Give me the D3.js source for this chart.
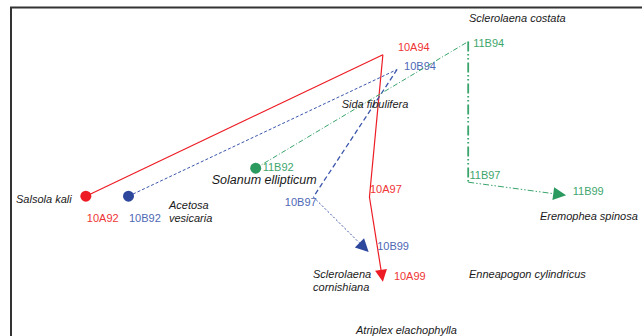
<!DOCTYPE html>
<html>
<head>
<meta charset="utf-8">
<script src="https://cdn.jsdelivr.net/npm/d3@7"></script>
<style>
  html, body { margin: 0; padding: 0; background: #fff; }
  svg { display: block; }
  text { font-family: "Liberation Sans", Arial, sans-serif; }
</style>
</head>
<body>
<svg id="chart" width="642" height="336"></svg>
<script>
// Ordination scores (axis 1, axis 2) of each plot in 1992, 1994, 1997 and 1999
const labels10A = ["10A92", "10A94", "10A97", "10A99"];
const axis1_10A = [-1.52, 0.36, 0.275, 0.36];
const axis2_10A = [-0.30, 1.42, -0.31, -1.34];

const labels10B = ["10B92", "10B94", "10B97", "10B99"];
const axis1_10B = [-1.25, 0.45, -0.08, 0.27];
const axis2_10B = [-0.30, 1.24, -0.31, -0.98];

const labels11B = ["11B92", "11B94", "11B97", "11B99"];
const axis1_11B = [-0.445, 0.90, 0.90, 1.52];
const axis2_11B = [0.04, 1.58, -0.13, -0.29];

// Species scores
const speciesNames = [
  "Sclerolaena costata", "Sida fibulifera", "Solanum ellipticum", "Salsola kali",
  "Acetosa vesicaria", "Sclerolaena cornishiana", "Eremophea spinosa",
  "Enneapogon cylindricus", "Atriplex elachophylla"
];
const speciesAxis1 = [0.905, 0.099, -0.723, -1.962, -0.994, -0.082, 1.354, 0.905, 0.19];
const speciesAxis2 = [1.818, 0.766, -0.158, -0.383, -0.46, -1.295, -0.59, -1.289, -1.979];

const W = 642, H = 336;
const svg = d3.select("#chart");

const x = d3.scaleLinear().domain([-2, 2]).range([10, 642]);
const y = d3.scaleLinear().domain([-2, 2]).range([336, 7]);

// Frame (top and left edges of the plot box)
svg.append("path")
  .attr("d", `M${x(-2) + 1},${H} V${y(2) + 0.5} H${W}`)
  .attr("fill", "none")
  .attr("stroke", "#333")
  .attr("stroke-width", 2);

// Plot trajectories and their drawing styles
const plots = [
  {
    labels: labels10A, a1: axis1_10A, a2: axis2_10A,
    mark: "#ed1c24", line: "#ed1c24", text: "#ef3535",
    segs: [
      { w: 1.2, dash: null }, { w: 1.2, dash: null }, { w: 1.2, dash: null }
    ],
    arrow: { len: 12, half: 6 },
    off: [[1, 25.5], [15, -4], [0.5, -4], [11, -2]]
  },
  {
    labels: labels10B, a1: axis1_10B, a2: axis2_10B,
    mark: "#2d479d", line: "#3a55aa", text: "#4e68b6",
    segs: [
      { w: 1, dash: "3,2" }, { w: 1.3, dash: "5,3" }, { w: 1, dash: "2,2" }
    ],
    arrow: { len: 13, half: 6.5 },
    off: [[0.5, 25.5], [7, 0], [-28.5, 9.5], [8.5, -1.7]]
  },
  {
    labels: labels11B, a1: axis1_11B, a2: axis2_11B,
    mark: "#2b9a5f", line: "#39a46b", text: "#3ea66d",
    segs: [
      { w: 1, dash: "5,2,1,2" }, { w: 1.8, dash: "10,2.5,1.5,2.5,1.5,3" }, { w: 1, dash: "6,2,1.5,2,1.5,2" }
    ],
    arrow: { len: 13, half: 6.5 },
    off: [[7, 3.2], [5, 5], [1.3, -3], [6.6, -0.7]]
  }
];

plots.forEach(p => {
  const pts = p.labels.map((lab, i) => ({ lab, px: x(p.a1[i]), py: y(p.a2[i]) }));
  const g = svg.append("g");

  // segments between successive years
  for (let i = 0; i < pts.length - 1; i++) {
    const s = p.segs[i];
    let x2 = pts[i + 1].px, y2 = pts[i + 1].py;
    if (i === pts.length - 2) {
      // stop the last segment at the arrowhead base
      const dx = x2 - pts[i].px, dy = y2 - pts[i].py, d = Math.hypot(dx, dy);
      x2 -= dx / d * (p.arrow.len - 1);
      y2 -= dy / d * (p.arrow.len - 1);
    }
    g.append("line")
      .attr("x1", pts[i].px).attr("y1", pts[i].py)
      .attr("x2", x2).attr("y2", y2)
      .attr("stroke", p.line)
      .attr("stroke-width", s.w)
      .attr("stroke-dasharray", s.dash);
  }

  // starting point
  g.append("circle")
    .attr("cx", pts[0].px).attr("cy", pts[0].py)
    .attr("r", 5.5)
    .attr("fill", p.mark);

  // arrowhead at the final year
  const a = pts[pts.length - 2], b = pts[pts.length - 1];
  const dx = b.px - a.px, dy = b.py - a.py, d = Math.hypot(dx, dy);
  const ux = dx / d, uy = dy / d;
  const bx = b.px - ux * p.arrow.len, by = b.py - uy * p.arrow.len;
  g.append("path")
    .attr("d", d3.line()([
      [b.px, b.py],
      [bx - uy * p.arrow.half, by + ux * p.arrow.half],
      [bx + uy * p.arrow.half, by - ux * p.arrow.half]
    ]) + "Z")
    .attr("fill", p.mark);

  // sample labels
  g.selectAll("text.sample")
    .data(pts)
    .join("text")
    .attr("class", "sample")
    .attr("x", (d, i) => d.px + p.off[i][0])
    .attr("y", (d, i) => d.py + p.off[i][1])
    .attr("font-size", 11)
    .attr("fill", p.text)
    .text(d => d.lab);
});

// Species labels
const wrapped = new Set(["Acetosa vesicaria", "Sclerolaena cornishiana"]);
const species = speciesNames.map((n, i) => ({ n, px: x(speciesAxis1[i]), py: y(speciesAxis2[i]) }));
const sp = svg.append("g");
species.forEach(s => {
  const t = sp.append("text")
    .attr("x", s.px).attr("y", s.py)
    .attr("font-style", "italic")
    .attr("font-size", s.n === "Solanum ellipticum" ? 12.5 : 11)
    .attr("fill", "#1a1a1a");
  if (wrapped.has(s.n)) {
    s.n.split(" ").forEach((w, k) => {
      t.append("tspan").attr("x", s.px).attr("dy", k === 0 ? 0 : 12.5).text(w);
    });
  } else {
    t.text(s.n);
  }
});
</script>
</body>
</html>
